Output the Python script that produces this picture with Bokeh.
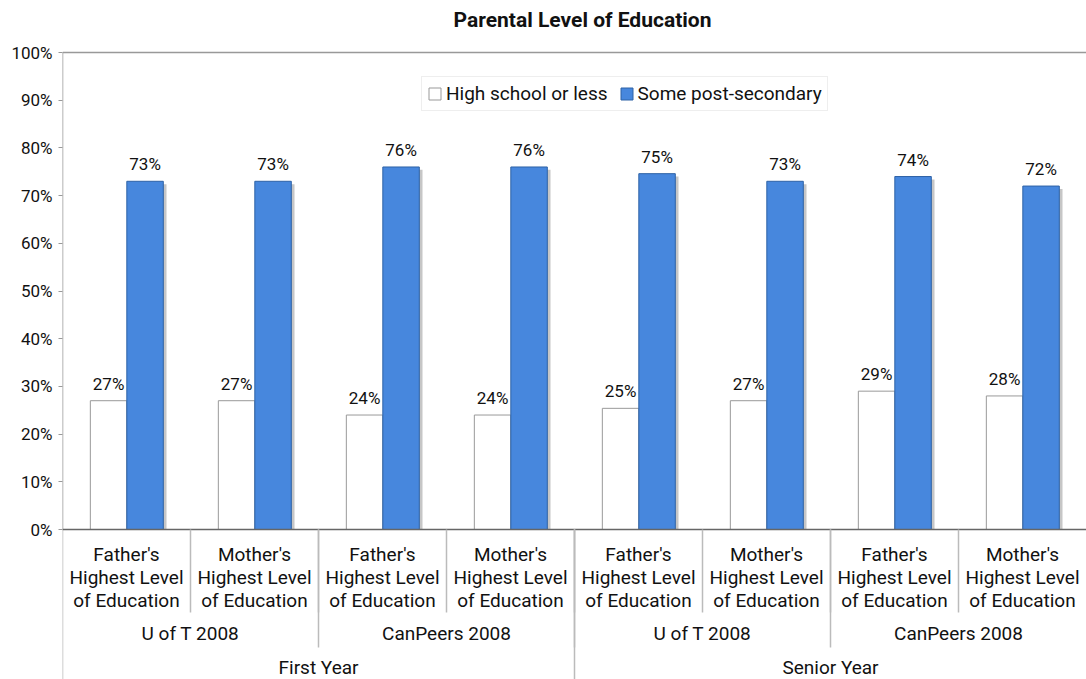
import numpy as np
from bokeh.plotting import figure
from bokeh.models import (Range1d, FixedTicker, PrintfTickFormatter, Legend,
                          LegendItem, ColumnDataSource)
from bokeh.core.properties import value
from bokeh.embed import file_html
from bokeh.resources import INLINE

# ---------------- data ----------------
title_text = "Parental Level of Education"
parent_labels = ["Father's\nHighest Level\nof Education", "Mother's\nHighest Level\nof Education",
                 "Father's\nHighest Level\nof Education", "Mother's\nHighest Level\nof Education",
                 "Father's\nHighest Level\nof Education", "Mother's\nHighest Level\nof Education",
                 "Father's\nHighest Level\nof Education", "Mother's\nHighest Level\nof Education"]
school_labels = ["U of T 2008", "CanPeers 2008", "U of T 2008", "CanPeers 2008"]
year_labels = ["First Year", "Senior Year"]
high_school = [27, 27, 24, 24, 25.4, 27, 29, 28]
post_secondary = [73, 73, 76, 76, 74.6, 73, 74, 72]
series_names = ["High school or less", "Some post-secondary"]
y_ticks = [0, 10, 20, 30, 40, 50, 60, 70, 80, 90, 100]

FONT = "Roboto"
BLUE = "#4787dd"
BLUE_LINE = "#2e62a6"

n = len(parent_labels)
idx = np.arange(n)
PX = 4.77              # pixels per percentage point
Y_MIN = -150 / PX      # bottom of the category area
Y_MAX = 100 + 52 / PX  # room for the title above the plot area

p = figure(width=1086, height=679, output_backend="svg", toolbar_location=None,
           x_range=Range1d(0, n), y_range=Range1d(Y_MIN, Y_MAX),
           min_border_left=62, min_border_right=0, min_border_top=0, min_border_bottom=0,
           outline_line_color=None)
p.xgrid.visible = False
p.ygrid.visible = False
p.xaxis.visible = False

# title
p.text(x=[n / 2], y=[Y_MAX], text=[title_text], text_align="center", text_baseline="middle",
       x_offset=8, y_offset=19, text_font=value(FONT), text_font_size="21px",
       text_font_style="bold", text_color="#111111")

ax = p.yaxis[0]
ax.ticker = FixedTicker(ticks=y_ticks)
ax.formatter = PrintfTickFormatter(format="%d%%")
ax.axis_line_color = None
ax.major_tick_line_color = "#999999"
ax.major_tick_out = 4
ax.major_tick_in = 0
ax.minor_tick_line_color = None
ax.major_label_text_font = FONT
ax.major_label_text_font_size = "17px"
ax.major_label_text_color = "#111111"
ax.major_label_standoff = 6

# frame lines
p.segment(x0=[0], y0=[0], x1=[0], y1=[100], line_color="#999999", line_width=1.5)
p.segment(x0=[0], y0=[100], x1=[n], y1=[100], line_color="#999999", line_width=1.5)
p.segment(x0=[0], y0=[0], x1=[0], y1=[Y_MIN], line_color="#bbbbbb", line_width=1.5)

# bars
w = 0.285
x_hs = idx + 0.36
x_ps = idx + 0.645
src = ColumnDataSource(dict(x_hs=x_hs, x_ps=x_ps, hs=high_school, ps=post_secondary,
                            ps_sh=np.array(post_secondary) - 0.6, x_sh=x_ps + 0.025,
                            hs_lab=[f"{v:.0f}%" for v in high_school],
                            ps_lab=[f"{v:.0f}%" for v in post_secondary]))
p.vbar(x="x_sh", top="ps_sh", bottom=0, width=w, source=src,
       fill_color="#c6c6c6", line_color=None)
r_hs = p.vbar(x="x_hs", top="hs", bottom=0, width=w, source=src,
              fill_color="white", line_color="#999999", line_width=1)
r_ps = p.vbar(x="x_ps", top="ps", bottom=0, width=w, source=src,
              fill_color=BLUE, line_color=BLUE_LINE, line_width=1)

p.text(x="x_hs", y="hs", text="hs_lab", source=src, text_align="center",
       text_baseline="bottom", y_offset=-7, text_font=value(FONT),
       text_font_size="17px", text_color="#111111")
p.text(x="x_ps", y="ps", text="ps_lab", source=src, text_align="center",
       text_baseline="bottom", y_offset=-7, text_font=value(FONT),
       text_font_size="17px", text_color="#111111")

# baseline
p.segment(x0=[0], y0=[0], x1=[n], y1=[0], line_color="#666666", line_width=1.5)

# category axis (three levels)
sep3 = idx[1:]
p.segment(x0=sep3, y0=np.zeros(len(sep3)), x1=sep3, y1=np.full(len(sep3), -83 / PX),
          line_color="#bbbbbb", line_width=1.5)
n_school = len(school_labels)
per_school = n // n_school
sep2 = np.arange(1, n_school) * per_school
p.segment(x0=sep2, y0=np.zeros(len(sep2)), x1=sep2, y1=np.full(len(sep2), -118 / PX),
          line_color="#bbbbbb", line_width=1.5)
n_year = len(year_labels)
per_year = n // n_year
sep1 = np.arange(1, n_year) * per_year
p.segment(x0=sep1, y0=np.zeros(len(sep1)), x1=sep1, y1=np.full(len(sep1), Y_MIN),
          line_color="#bbbbbb", line_width=1.5)

p.text(x=idx + 0.5, y=np.zeros(n), text=parent_labels, text_align="center",
       text_baseline="top", y_offset=13, text_font=value(FONT), text_font_size="19px",
       text_line_height=1.02, text_color="#111111")
p.text(x=np.arange(n_school) * per_school + per_school / 2, y=np.zeros(n_school),
       text=school_labels, text_align="center", text_baseline="middle", y_offset=104,
       text_font=value(FONT), text_font_size="19px", text_color="#111111")
p.text(x=np.arange(n_year) * per_year + per_year / 2, y=np.zeros(n_year),
       text=year_labels, text_align="center", text_baseline="middle", y_offset=138,
       text_font=value(FONT), text_font_size="19px", text_color="#111111")

legend = Legend(items=[LegendItem(label=series_names[0], renderers=[r_hs]),
                       LegendItem(label=series_names[1], renderers=[r_ps])],
                orientation="horizontal", location=(359, 568),
                label_text_font=FONT, label_text_font_size="19px",
                label_text_color="#111111", glyph_width=15, glyph_height=15,
                label_standoff=4, spacing=11, padding=5, margin=0,
                border_line_color="#dddddd", background_fill_alpha=1)
p.add_layout(legend)

open("out.html", "w").write(file_html(p, INLINE))
